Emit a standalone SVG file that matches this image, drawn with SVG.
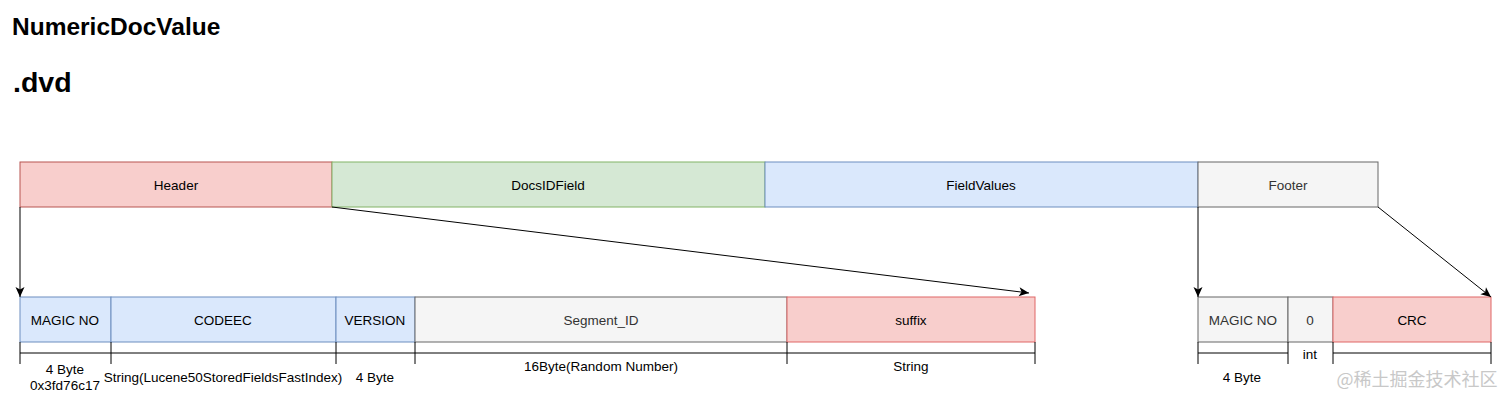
<svg xmlns="http://www.w3.org/2000/svg" width="1512" height="403" viewBox="0 0 1512 403">
<defs>
<marker id="ah" markerWidth="12" markerHeight="12" refX="11" refY="6" orient="auto" markerUnits="userSpaceOnUse">
<path d="M1,1.5 L11,6 L1,10.5 L3.5,6 Z" fill="#000"/>
</marker>
<style>
text{font-family:"Liberation Sans",Arial,sans-serif;font-size:13.5px;fill:#000;text-anchor:middle;dominant-baseline:central}
.title{font-weight:bold;text-anchor:start;dominant-baseline:auto}
.red{fill:#f8cecc;stroke:#b85450}
.red2{fill:#f8cecc;stroke:#e06666}
.green{fill:#d5e8d4;stroke:#82b366}
.blue{fill:#dae8fc;stroke:#6c8ebf}
.grey{fill:#f5f5f5;stroke:#666666}
.grey-t{fill:#333}
.br{fill:none;stroke:#000;stroke-width:1}
.conn{fill:none;stroke:#000;stroke-width:1;marker-end:url(#ah)}
.wm{fill:#c8c8c8;font-family:"Noto Sans CJK SC","Liberation Sans",sans-serif;font-size:18px}
</style>
</defs>
<rect width="1512" height="403" fill="#fff"/>
<text class="title" x="12" y="35" style="font-size:24.5px">NumericDocValue</text>
<text class="title" x="13" y="92" style="font-size:28.5px">.dvd</text>

<g id="header"><rect class="red" x="20" y="162" width="312" height="45"/><text x="176" y="185">Header</text></g>
<g id="docsidfield"><rect class="green" x="332" y="162" width="433" height="45"/><text x="548" y="185">DocsIDField</text></g>
<g id="fieldvalues"><rect class="blue" x="765" y="162" width="433" height="45"/><text x="981" y="185">FieldValues</text></g>
<g id="footer"><rect class="grey" x="1198" y="162" width="180" height="45"/><text class="grey-t" x="1288" y="185">Footer</text></g>

<g id="magicno"><rect class="blue" x="20" y="297" width="91" height="45"/><text x="65" y="320">MAGIC NO</text></g>
<g id="codeec"><rect class="blue" x="111" y="297" width="225" height="45"/><text x="223" y="320">CODEEC</text></g>
<g id="version"><rect class="blue" x="336" y="297" width="79" height="45"/><text x="375" y="320">VERSION</text></g>
<g id="segmentid"><rect class="grey" x="415" y="297" width="372" height="45"/><text class="grey-t" x="601" y="320">Segment_ID</text></g>
<g id="suffix"><rect class="red2" x="787" y="297" width="248" height="45"/><text x="911" y="320">suffix</text></g>

<g id="f-magicno"><rect class="grey" x="1198" y="297" width="90" height="45"/><text class="grey-t" x="1243" y="320">MAGIC NO</text></g>
<g id="f-zero"><rect class="grey" x="1288" y="297" width="45" height="45"/><text class="grey-t" x="1310" y="320">0</text></g>
<g id="crc"><rect class="red2" x="1333" y="297" width="158" height="45"/><text x="1412" y="320">CRC</text></g>

<g id="brackets">
<path class="br" d="M20,342 V364 M20,353 H111 M111,342 V364"/>
<path class="br" d="M111,353 H336 M336,342 V364"/>
<path class="br" d="M336,353 H415 M415,342 V364"/>
<path class="br" d="M415,353 H787 M787,342 V364"/>
<path class="br" d="M787,353 H1035 M1035,342 V364"/>
<path class="br" d="M1198,342 V364 M1198,353 H1288 M1288,342 V364"/>
<path class="br" d="M1333,342 V364 M1333,353 H1491 M1491,342 V364"/>
</g>

<g id="labels">
<text x="65" y="369">4 Byte</text>
<text x="65" y="385">0x3fd76c17</text>
<text x="223" y="377">String(Lucene50StoredFieldsFastIndex)</text>
<text x="375" y="377">4 Byte</text>
<text x="601" y="366">16Byte(Random Number)</text>
<text x="911" y="366">String</text>
<text x="1310" y="354">int</text>
<text x="1242" y="377">4 Byte</text>
<text class="wm" x="1417" y="378">@稀土掘金技术社区</text>
</g>

<g id="connectors">
<path class="conn" d="M20,207 V297"/>
<path class="conn" d="M332,207 L1029,293"/>
<path class="conn" d="M1198,207 V297"/>
<path class="conn" d="M1378,207 L1491,297"/>
</g>
</svg>
